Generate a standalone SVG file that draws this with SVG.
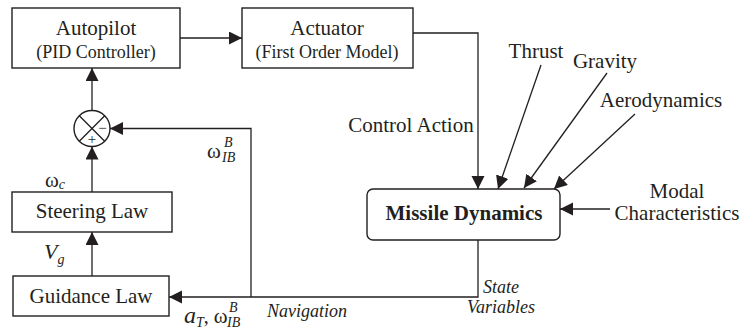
<svg xmlns="http://www.w3.org/2000/svg" width="745" height="332" viewBox="0 0 745 332" font-family="'Liberation Serif', 'DejaVu Serif', serif">
  <defs>
    <marker id="arrow" markerUnits="userSpaceOnUse" markerWidth="14" markerHeight="14" refX="13" refY="6.5" orient="auto">
      <path d="M0,0 L13,6.5 L0,13 z" fill="#231f20"/>
    </marker>
    <style>
      .box { fill: #fff; stroke: #231f20; stroke-width: 1.4; }
      .wire { fill: none; stroke: #231f20; stroke-width: 1.3; }
      .arr { marker-end: url(#arrow); }
      text { fill: #231f20; }
      .t { font-size: 21px; text-anchor: middle; }
      .s { font-size: 18px; text-anchor: middle; }
      .b { font-size: 21px; font-weight: bold; text-anchor: middle; }
      .i { font-style: italic; font-size: 18px; }
      .sym { font-size: 21px; }
      .sub { font-size: 14px; font-style: italic; }
    </style>
  </defs>

  <!-- connectors -->
  <g id="connectors">
    <path class="wire arr" d="M180,38 H242"/>
    <path class="wire arr" d="M413,33 H478 V189"/>
    <path class="wire arr" d="M541,65 L498,189"/>
    <path class="wire arr" d="M607,73 L524,188"/>
    <path class="wire arr" d="M635,114 L554,189"/>
    <path class="wire arr" d="M610,209 H560"/>
    <path class="wire arr" d="M478,240 V297 H169"/>
    <path class="wire arr" d="M251,297 V128.5 H110"/>
    <path class="wire arr" d="M92,192 V146.5"/>
    <path class="wire arr" d="M92,276 V232"/>
    <path class="wire arr" d="M92,110.5 V68"/>
  </g>

  <g id="autopilot">
    <rect class="box" x="12" y="8" width="168" height="60"/>
    <text class="t" x="96" y="35">Autopilot</text>
    <text class="s" x="96" y="58">(PID Controller)</text>
  </g>

  <g id="actuator">
    <rect class="box" x="242" y="8" width="171" height="60"/>
    <text class="t" x="327" y="35">Actuator</text>
    <text class="s" x="327" y="58">(First Order Model)</text>
  </g>

  <g id="summer">
    <circle class="box" cx="92" cy="128.5" r="18"/>
    <path class="wire" d="M79.3,115.8 L104.7,141.2 M104.7,115.8 L79.3,141.2"/>
    <text x="102.5" y="133" font-size="15" text-anchor="middle">−</text>
    <text x="92" y="144" font-size="15" text-anchor="middle">+</text>
  </g>

  <g id="steering">
    <rect class="box" x="12" y="192" width="160" height="40"/>
    <text class="t" x="92" y="218">Steering Law</text>
  </g>

  <g id="guidance">
    <rect class="box" x="13" y="276" width="156" height="40"/>
    <text class="t" x="91" y="303">Guidance Law</text>
  </g>

  <g id="missile">
    <rect class="box" x="367" y="189" width="193" height="51" rx="6"/>
    <text class="b" x="464" y="220">Missile Dynamics</text>
  </g>

  <!-- signal and input labels -->
  <g id="labels">
    <text class="t" x="536" y="58">Thrust</text>
    <text class="t" x="605" y="68">Gravity</text>
    <text class="t" x="661" y="107">Aerodynamics</text>
    <text class="t" x="411" y="132">Control Action</text>
    <text class="t" x="677" y="198">Modal</text>
    <text class="t" x="677" y="220">Characteristics</text>
    <text class="i" x="483" y="293">State</text>
    <text class="i" x="467" y="313">Variables</text>
    <text class="i" x="267" y="317">Navigation</text>

    <text x="45" y="187"><tspan class="sym">ω</tspan><tspan class="sub" dy="2">c</tspan></text>
    <text x="44" y="259"><tspan font-size="22" font-style="italic">V</tspan><tspan class="sub" dy="5">g</tspan></text>
    <text x="207" y="158"><tspan class="sym">ω</tspan></text>
    <text class="sub" x="224" y="147">B</text>
    <text class="sub" x="222" y="162">IB</text>

    <text x="184" y="323"><tspan font-size="24" font-style="italic">a</tspan><tspan class="sub" dy="4">T</tspan><tspan font-size="20" dy="-4">, </tspan><tspan class="sym">ω</tspan></text>
    <text class="sub" x="229" y="312">B</text>
    <text class="sub" x="227" y="327">IB</text>
  </g>
</svg>
